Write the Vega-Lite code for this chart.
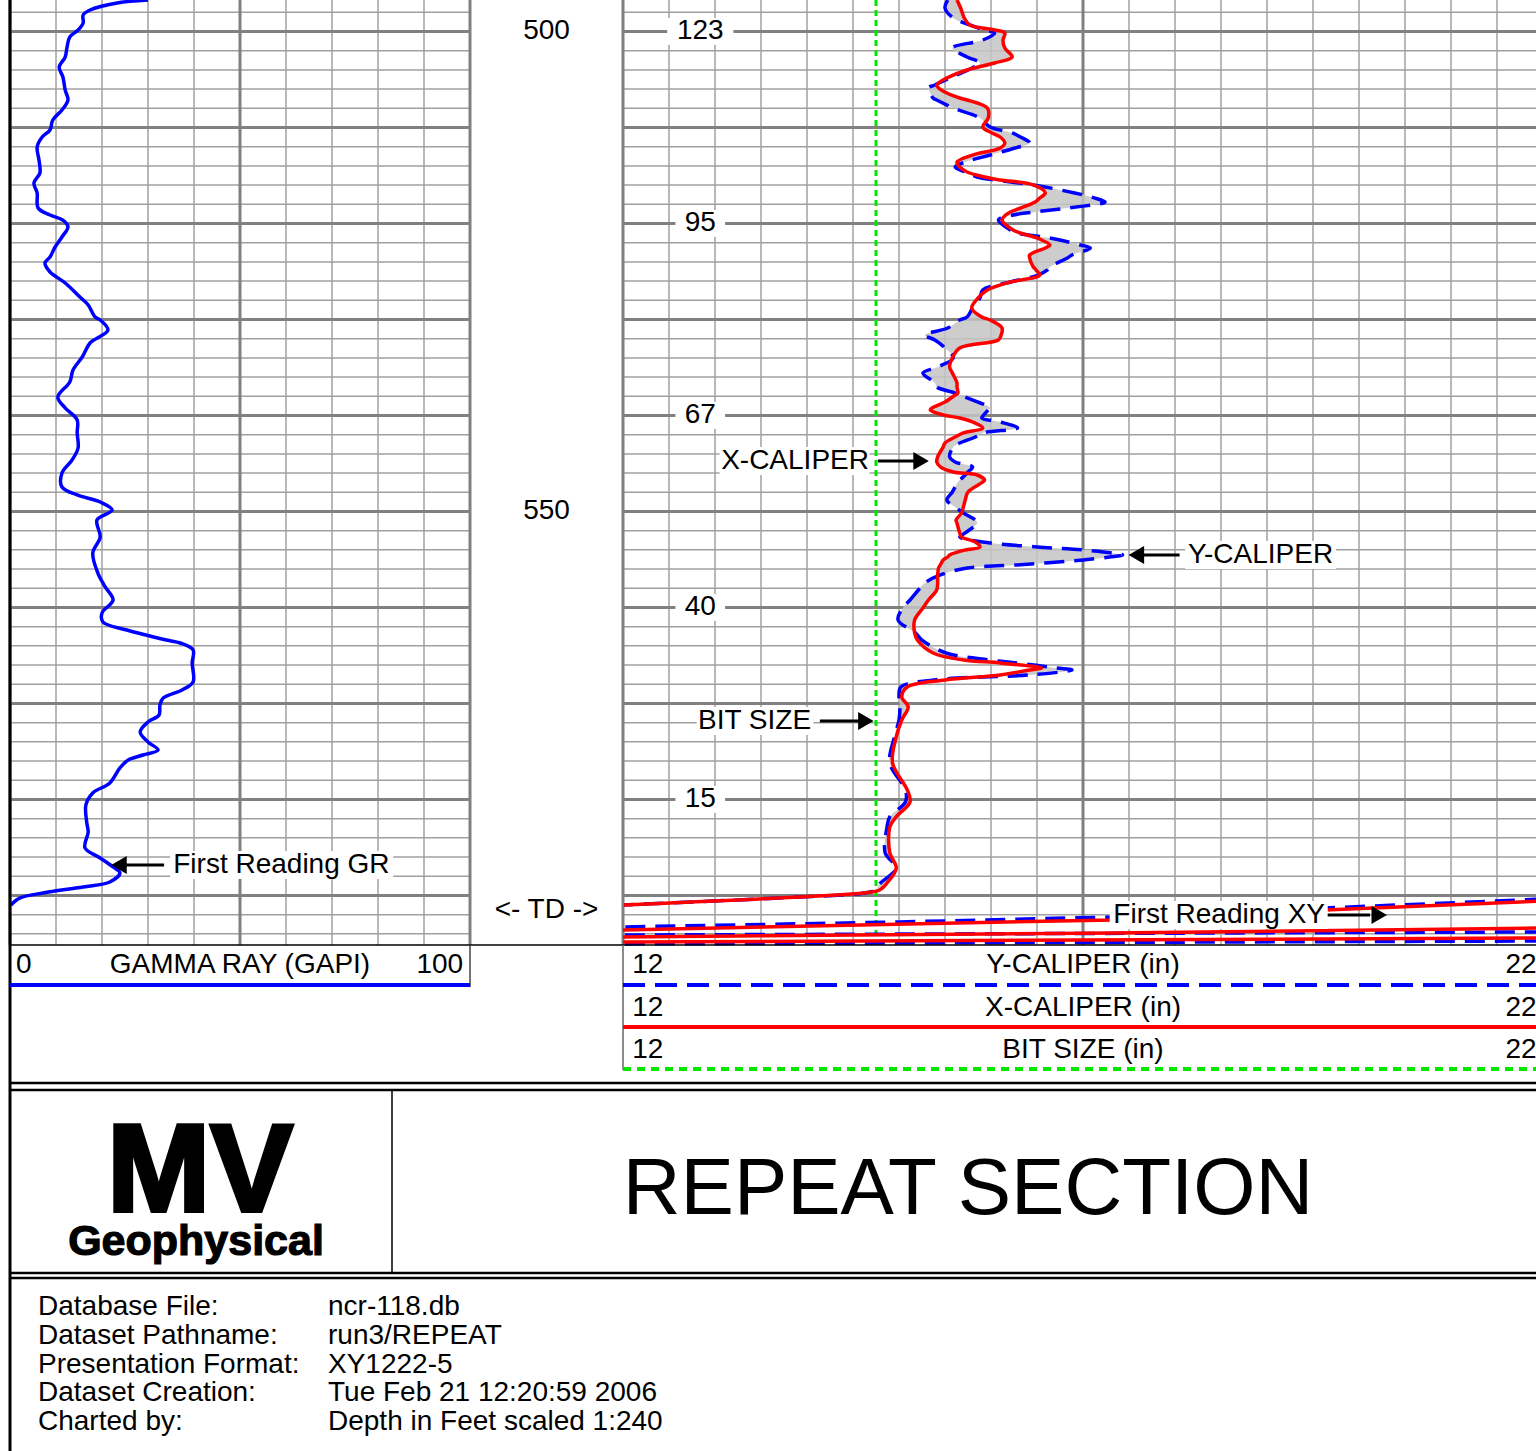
{
"$schema":"https://vega.github.io/schema/vega-lite/v6.json",
"width":1536,"height":1451,"autosize":{"type":"none"},"padding":0,"background":"white",
"config":{"view":{"stroke":null},"axis":{"disable":true},"legend":{"disable":true},"text":{"font":"Liberation Sans","fontSize":28,"color":"black"}},
"data":{"values":[{}]},
"datasets":{
"hgrid":[{"v":498},{"v":500},{"v":502},{"v":504},{"v":506},{"v":508},{"v":510},{"v":512},{"v":514},{"v":516},{"v":518},{"v":520},{"v":522},{"v":524},{"v":526},{"v":528},{"v":530},{"v":532},{"v":534},{"v":536},{"v":538},{"v":540},{"v":542},{"v":544},{"v":546},{"v":548},{"v":550},{"v":552},{"v":554},{"v":556},{"v":558},{"v":560},{"v":562},{"v":564},{"v":566},{"v":568},{"v":570},{"v":572},{"v":574},{"v":576},{"v":578},{"v":580},{"v":582},{"v":584},{"v":586},{"v":588},{"v":590},{"v":592},{"v":594}],
"grgrid":[{"v":0},{"v":10},{"v":20},{"v":30},{"v":40},{"v":50},{"v":60},{"v":70},{"v":80},{"v":90},{"v":100}],
"calgrid":[{"v":12},{"v":12.5},{"v":13},{"v":13.5},{"v":14},{"v":14.5},{"v":15},{"v":15.5},{"v":16},{"v":16.5},{"v":17},{"v":17.5},{"v":18},{"v":18.5},{"v":19},{"v":19.5},{"v":20},{"v":20.5},{"v":21},{"v":21.5},{"v":22}],
"gr":[{"depth":496.72,"gr":30.0},{"depth":497.03,"gr":23.3},{"depth":497.76,"gr":17.4},{"depth":498.28,"gr":15.9},{"depth":499.12,"gr":15.9},{"depth":499.85,"gr":14.8},{"depth":500.57,"gr":13.0},{"depth":501.62,"gr":12.4},{"depth":502.66,"gr":12.0},{"depth":503.70,"gr":10.7},{"depth":504.74,"gr":11.5},{"depth":506.10,"gr":12.0},{"depth":507.14,"gr":12.6},{"depth":508.18,"gr":11.3},{"depth":509.22,"gr":9.3},{"depth":510.26,"gr":8.7},{"depth":510.99,"gr":7.0},{"depth":512.03,"gr":5.9},{"depth":513.39,"gr":6.3},{"depth":514.74,"gr":6.5},{"depth":515.78,"gr":5.2},{"depth":516.82,"gr":5.9},{"depth":518.39,"gr":6.1},{"depth":519.12,"gr":8.7},{"depth":519.64,"gr":11.5},{"depth":520.36,"gr":12.6},{"depth":521.41,"gr":11.3},{"depth":522.45,"gr":9.8},{"depth":523.49,"gr":8.7},{"depth":524.12,"gr":7.6},{"depth":525.05,"gr":8.7},{"depth":526.20,"gr":12.0},{"depth":527.66,"gr":15.2},{"depth":528.49,"gr":17.0},{"depth":529.74,"gr":18.5},{"depth":530.05,"gr":19.6},{"depth":531.10,"gr":21.3},{"depth":532.45,"gr":17.4},{"depth":533.91,"gr":15.7},{"depth":535.26,"gr":13.7},{"depth":536.51,"gr":13.0},{"depth":538.08,"gr":10.4},{"depth":539.22,"gr":12.0},{"depth":540.47,"gr":14.6},{"depth":541.82,"gr":14.6},{"depth":543.39,"gr":14.8},{"depth":544.64,"gr":13.5},{"depth":545.99,"gr":11.3},{"depth":547.45,"gr":11.3},{"depth":548.28,"gr":14.6},{"depth":549.01,"gr":19.6},{"depth":549.85,"gr":22.2},{"depth":550.89,"gr":18.9},{"depth":552.66,"gr":19.6},{"depth":554.32,"gr":18.0},{"depth":556.41,"gr":19.1},{"depth":557.86,"gr":20.7},{"depth":559.22,"gr":22.4},{"depth":560.57,"gr":20.0},{"depth":561.51,"gr":20.2},{"depth":562.35,"gr":25.4},{"depth":563.39,"gr":34.0},{"depth":563.70,"gr":37.0},{"depth":564.43,"gr":39.8},{"depth":565.78,"gr":39.6},{"depth":567.76,"gr":39.8},{"depth":568.59,"gr":37.4},{"depth":569.43,"gr":33.3},{"depth":570.16,"gr":32.6},{"depth":571.20,"gr":32.4},{"depth":571.93,"gr":30.0},{"depth":572.97,"gr":28.3},{"depth":574.01,"gr":30.0},{"depth":574.85,"gr":32.2},{"depth":575.37,"gr":28.9},{"depth":575.89,"gr":25.7},{"depth":576.72,"gr":23.9},{"depth":578.28,"gr":21.7},{"depth":579.32,"gr":18.0},{"depth":580.57,"gr":16.5},{"depth":582.45,"gr":16.7},{"depth":583.39,"gr":17.0},{"depth":585.05,"gr":16.3},{"depth":586.10,"gr":19.6},{"depth":587.03,"gr":22.4},{"depth":587.66,"gr":23.9},{"depth":588.60,"gr":21.7},{"depth":589.11,"gr":15.9},{"depth":589.74,"gr":7.2},{"depth":590.26,"gr":2.2},{"depth":590.99,"gr":0.2}],
"cal":[{"depth":496.72,"xc":15.63,"yc":15.53},{"depth":497.55,"xc":15.67,"yc":15.50},{"depth":498.60,"xc":15.71,"yc":15.59},{"depth":499.32,"xc":15.77,"yc":15.77},{"depth":499.85,"xc":16.04,"yc":15.93},{"depth":500.16,"xc":16.15,"yc":16.04},{"depth":500.89,"xc":16.13,"yc":15.91},{"depth":501.72,"xc":16.15,"yc":15.58},{"depth":502.66,"xc":16.23,"yc":15.74},{"depth":503.28,"xc":16.04,"yc":15.88},{"depth":504.01,"xc":15.74,"yc":15.75},{"depth":504.85,"xc":15.52,"yc":15.55},{"depth":505.57,"xc":15.41,"yc":15.39},{"depth":505.89,"xc":15.43,"yc":15.32},{"depth":506.41,"xc":15.52,"yc":15.34},{"depth":506.93,"xc":15.66,"yc":15.37},{"depth":507.14,"xc":15.74,"yc":15.41},{"depth":507.97,"xc":15.96,"yc":15.59},{"depth":509.01,"xc":15.97,"yc":15.88},{"depth":509.95,"xc":15.91,"yc":15.99},{"depth":510.57,"xc":16.01,"yc":16.23},{"depth":510.99,"xc":16.10,"yc":16.32},{"depth":511.62,"xc":16.15,"yc":16.42},{"depth":512.14,"xc":16.10,"yc":16.26},{"depth":512.87,"xc":15.80,"yc":15.99},{"depth":513.60,"xc":15.63,"yc":15.72},{"depth":514.12,"xc":15.66,"yc":15.61},{"depth":514.64,"xc":15.74,"yc":15.72},{"depth":515.16,"xc":15.93,"yc":15.85},{"depth":515.47,"xc":16.10,"yc":16.04},{"depth":515.99,"xc":16.46,"yc":16.46},{"depth":516.82,"xc":16.59,"yc":16.91},{"depth":517.35,"xc":16.53,"yc":17.13},{"depth":517.76,"xc":16.48,"yc":17.24},{"depth":518.39,"xc":16.32,"yc":16.83},{"depth":518.80,"xc":16.21,"yc":16.48},{"depth":519.12,"xc":16.16,"yc":16.24},{"depth":519.64,"xc":16.12,"yc":16.08},{"depth":520.68,"xc":16.24,"yc":16.21},{"depth":520.99,"xc":16.32,"yc":16.28},{"depth":521.51,"xc":16.50,"yc":16.64},{"depth":521.72,"xc":16.55,"yc":16.75},{"depth":522.24,"xc":16.64,"yc":16.97},{"depth":522.55,"xc":16.59,"yc":17.08},{"depth":523.28,"xc":16.42,"yc":16.88},{"depth":523.59,"xc":16.42,"yc":16.83},{"depth":524.53,"xc":16.46,"yc":16.64},{"depth":524.85,"xc":16.49,"yc":16.61},{"depth":525.37,"xc":16.53,"yc":16.51},{"depth":526.10,"xc":16.21,"yc":16.21},{"depth":526.93,"xc":15.96,"yc":15.91},{"depth":527.76,"xc":15.86,"yc":15.88},{"depth":528.80,"xc":15.79,"yc":15.80},{"depth":529.74,"xc":15.90,"yc":15.74},{"depth":530.05,"xc":15.99,"yc":15.66},{"depth":530.89,"xc":16.12,"yc":15.53},{"depth":531.62,"xc":16.11,"yc":15.28},{"depth":532.14,"xc":16.08,"yc":15.39},{"depth":532.97,"xc":15.66,"yc":15.50},{"depth":534.01,"xc":15.58,"yc":15.59},{"depth":534.95,"xc":15.55,"yc":15.42},{"depth":535.57,"xc":15.58,"yc":15.26},{"depth":536.61,"xc":15.63,"yc":15.39},{"depth":537.03,"xc":15.63,"yc":15.41},{"depth":537.66,"xc":15.64,"yc":15.61},{"depth":537.87,"xc":15.61,"yc":15.66},{"depth":538.60,"xc":15.50,"yc":15.86},{"depth":539.22,"xc":15.36,"yc":15.99},{"depth":539.43,"xc":15.34,"yc":15.97},{"depth":539.95,"xc":15.48,"yc":15.92},{"depth":540.26,"xc":15.66,"yc":15.90},{"depth":540.68,"xc":15.80,"yc":16.10},{"depth":541.30,"xc":15.91,"yc":16.29},{"depth":541.82,"xc":15.70,"yc":15.91},{"depth":542.24,"xc":15.61,"yc":15.83},{"depth":542.87,"xc":15.50,"yc":15.66},{"depth":543.28,"xc":15.48,"yc":15.59},{"depth":544.32,"xc":15.42,"yc":15.55},{"depth":544.84,"xc":15.41,"yc":15.61},{"depth":545.36,"xc":15.45,"yc":15.80},{"depth":545.89,"xc":15.59,"yc":15.75},{"depth":546.20,"xc":15.85,"yc":15.72},{"depth":546.72,"xc":15.93,"yc":15.66},{"depth":546.93,"xc":15.91,"yc":15.64},{"depth":547.97,"xc":15.75,"yc":15.58},{"depth":548.80,"xc":15.72,"yc":15.52},{"depth":549.53,"xc":15.70,"yc":15.61},{"depth":550.16,"xc":15.68,"yc":15.70},{"depth":550.89,"xc":15.62,"yc":15.83},{"depth":551.20,"xc":15.63,"yc":15.85},{"depth":552.24,"xc":15.66,"yc":15.72},{"depth":552.66,"xc":15.68,"yc":15.66},{"depth":553.18,"xc":15.83,"yc":15.91},{"depth":553.70,"xc":15.88,"yc":16.50},{"depth":554.01,"xc":15.72,"yc":17.00},{"depth":554.53,"xc":15.55,"yc":17.43},{"depth":554.74,"xc":15.53,"yc":17.29},{"depth":555.05,"xc":15.48,"yc":17.00},{"depth":555.57,"xc":15.45,"yc":16.28},{"depth":555.89,"xc":15.43,"yc":15.74},{"depth":556.61,"xc":15.42,"yc":15.45},{"depth":557.45,"xc":15.42,"yc":15.28},{"depth":558.18,"xc":15.41,"yc":15.21},{"depth":559.22,"xc":15.32,"yc":15.12},{"depth":560.05,"xc":15.26,"yc":15.04},{"depth":561.30,"xc":15.17,"yc":14.99},{"depth":562.66,"xc":15.17,"yc":15.18},{"depth":563.39,"xc":15.20,"yc":15.25},{"depth":564.74,"xc":15.37,"yc":15.51},{"depth":565.47,"xc":15.70,"yc":15.99},{"depth":565.78,"xc":16.10,"yc":16.29},{"depth":566.30,"xc":16.55,"yc":16.70},{"depth":566.51,"xc":16.42,"yc":16.88},{"depth":567.03,"xc":16.10,"yc":16.42},{"depth":567.55,"xc":15.50,"yc":15.38},{"depth":568.28,"xc":15.09,"yc":15.02},{"depth":569.32,"xc":15.03,"yc":15.00},{"depth":570.36,"xc":15.10,"yc":15.01},{"depth":571.72,"xc":15.03,"yc":15.00},{"depth":573.49,"xc":14.97,"yc":14.95},{"depth":576.20,"xc":14.93,"yc":14.90},{"depth":579.01,"xc":15.09,"yc":15.07},{"depth":580.26,"xc":15.12,"yc":15.07},{"depth":581.80,"xc":14.97,"yc":14.90},{"depth":582.86,"xc":14.90,"yc":14.87},{"depth":585.57,"xc":14.90,"yc":14.85},{"depth":587.14,"xc":14.97,"yc":14.97},{"depth":588.70,"xc":14.87,"yc":14.80},{"depth":589.43,"xc":14.79,"yc":14.74},{"depth":589.74,"xc":14.61,"yc":14.63},{"depth":590.26,"xc":13.70,"yc":13.70},{"depth":590.68,"xc":12.73,"yc":12.75},{"depth":590.99,"xc":12.01,"yc":12.01}],
"xwrap":[{"seg":"A","i":1,"depth":590.57,"xc":22.02},{"seg":"A","i":2,"depth":591.51,"xc":19.63},{"seg":"A","i":3,"depth":592.55,"xc":17.33},{"seg":"A","i":4,"depth":593.07,"xc":14.58},{"seg":"A","i":5,"depth":593.59,"xc":12.0},{"seg":"B","i":1,"depth":593.39,"xc":22.02},{"seg":"B","i":2,"depth":593.91,"xc":17.33},{"seg":"B","i":3,"depth":594.32,"xc":12.0},{"seg":"C","i":1,"depth":594.43,"xc":22.02},{"seg":"C","i":2,"depth":594.85,"xc":12.0}],
"ywrap":[{"seg":"A","i":1,"depth":590.37,"yc":22.02},{"seg":"A","i":2,"depth":591.30,"yc":19.63},{"seg":"A","i":3,"depth":592.24,"yc":17.33},{"seg":"A","i":4,"depth":592.76,"yc":15.01},{"seg":"A","i":5,"depth":593.28,"yc":12.0},{"seg":"B","i":1,"depth":593.80,"yc":22.02},{"seg":"B","i":2,"depth":594.12,"yc":12.0},{"seg":"C","i":1,"depth":594.74,"yc":22.02},{"seg":"C","i":2,"depth":595.05,"yc":12.0}],
"calboxes":[{"c1":12.48,"c2":13.2,"d1":498.6,"d2":501.4},{"c1":12.57,"c2":13.11,"d1":518.6,"d2":521.4},{"c1":12.57,"c2":13.11,"d1":538.6,"d2":541.4},{"c1":12.57,"c2":13.11,"d1":558.6,"d2":561.4},{"c1":12.57,"c2":13.11,"d1":578.6,"d2":581.4},{"c1":13.05,"c2":14.68,"d1":543.28,"d2":546.2},{"c1":12.8,"c2":14.07,"d1":570.37,"d2":573.28},{"c1":18.11,"c2":19.75,"d1":553.07,"d2":555.99},{"c1":17.29,"c2":19.66,"d1":590.57,"d2":593.49}],
"calnotes":[{"cal":12.84,"depth":500,"label":"123"},{"cal":12.84,"depth":520,"label":"95"},{"cal":12.84,"depth":540,"label":"67"},{"cal":12.84,"depth":560,"label":"40"},{"cal":12.84,"depth":580,"label":"15"},{"cal":13.87,"depth":544.74,"label":"X-CALIPER"},{"cal":13.43,"depth":571.83,"label":"BIT SIZE"},{"cal":18.93,"depth":554.53,"label":"Y-CALIPER"},{"cal":18.48,"depth":592.03,"label":"First Reading XY"}],
"calarrows":[{"c1":14.77,"c2":15.17,"depth":544.74},{"c1":14.14,"c2":14.58,"depth":571.83},{"c1":17.64,"c2":18.05,"depth":554.53},{"c1":19.66,"c2":20.12,"depth":592.03}],
"headsR":[{"cal":15.24,"depth":544.74},{"cal":14.64,"depth":571.83},{"cal":20.22,"depth":592.03}],
"headsL":[{"cal":17.58,"depth":554.53}],
"depthlabels":[{"depth":500,"label":"500"},{"depth":550,"label":"550"},{"depth":591.51,"label":"<- TD ->"}],
"info":[{"row":0,"label":"Database File:","value":"ncr-118.db"},{"row":1,"label":"Dataset Pathname:","value":"run3/REPEAT"},{"row":2,"label":"Presentation Format:","value":"XY1222-5"},{"row":3,"label":"Dataset Creation:","value":"Tue Feb 21 12:20:59 2006"},{"row":4,"label":"Charted by:","value":"Depth in Feet scaled 1:240"}]
},
"resolve":{"scale":{"x":"independent","y":"independent"}},
"layer":[
{"data":{"name":"hgrid"},"transform":[{"filter":"datum.v % 10 !== 0"}],"mark":{"type":"rule","stroke":"#a0a0a0","strokeWidth":1.5},"encoding":{"y":{"field":"v","type":"quantitative","scale":{"domain":[496.72,595.16],"range":[0,945],"nice":false,"zero":false}},"x":{"datum":0,"type":"quantitative","scale":{"domain":[0,100],"range":[10,470],"nice":false,"zero":false}},"x2":{"datum":100}}},
{"data":{"name":"hgrid"},"transform":[{"filter":"datum.v % 10 !== 0"}],"mark":{"type":"rule","stroke":"#a0a0a0","strokeWidth":1.5},"encoding":{"y":{"field":"v","type":"quantitative","scale":{"domain":[496.72,595.16],"range":[0,945],"nice":false,"zero":false}},"x":{"datum":12,"type":"quantitative","scale":{"domain":[12,22],"range":[623,1543],"nice":false,"zero":false}},"x2":{"datum":22}}},
{"data":{"name":"grgrid"},"transform":[{"filter":"datum.v % 50 !== 0"}],"mark":{"type":"rule","stroke":"#a0a0a0","strokeWidth":1.5},"encoding":{"x":{"field":"v","type":"quantitative","scale":{"domain":[0,100],"range":[10,470],"nice":false,"zero":false}},"y":{"datum":496.72,"type":"quantitative","scale":{"domain":[496.72,595.16],"range":[0,945],"nice":false,"zero":false}},"y2":{"datum":595.16}}},
{"data":{"name":"calgrid"},"transform":[{"filter":"(datum.v - 12) % 5 !== 0"}],"mark":{"type":"rule","stroke":"#a0a0a0","strokeWidth":1.5},"encoding":{"x":{"field":"v","type":"quantitative","scale":{"domain":[12,22],"range":[623,1543],"nice":false,"zero":false}},"y":{"datum":496.72,"type":"quantitative","scale":{"domain":[496.72,595.16],"range":[0,945],"nice":false,"zero":false}},"y2":{"datum":595.16}}},
{"data":{"name":"hgrid"},"transform":[{"filter":"datum.v % 10 === 0"}],"mark":{"type":"rule","stroke":"#808080","strokeWidth":3},"encoding":{"y":{"field":"v","type":"quantitative","scale":{"domain":[496.72,595.16],"range":[0,945],"nice":false,"zero":false}},"x":{"datum":0,"type":"quantitative","scale":{"domain":[0,100],"range":[10,470],"nice":false,"zero":false}},"x2":{"datum":100}}},
{"data":{"name":"hgrid"},"transform":[{"filter":"datum.v % 10 === 0"}],"mark":{"type":"rule","stroke":"#808080","strokeWidth":3},"encoding":{"y":{"field":"v","type":"quantitative","scale":{"domain":[496.72,595.16],"range":[0,945],"nice":false,"zero":false}},"x":{"datum":12,"type":"quantitative","scale":{"domain":[12,22],"range":[623,1543],"nice":false,"zero":false}},"x2":{"datum":22}}},
{"data":{"name":"grgrid"},"transform":[{"filter":"datum.v % 50 === 0"}],"mark":{"type":"rule","stroke":"#808080","strokeWidth":3},"encoding":{"x":{"field":"v","type":"quantitative","scale":{"domain":[0,100],"range":[10,470],"nice":false,"zero":false}},"y":{"datum":496.72,"type":"quantitative","scale":{"domain":[496.72,595.16],"range":[0,945],"nice":false,"zero":false}},"y2":{"datum":595.16}}},
{"data":{"name":"calgrid"},"transform":[{"filter":"(datum.v - 12) % 5 === 0"}],"mark":{"type":"rule","stroke":"#808080","strokeWidth":3},"encoding":{"x":{"field":"v","type":"quantitative","scale":{"domain":[12,22],"range":[623,1543],"nice":false,"zero":false}},"y":{"datum":496.72,"type":"quantitative","scale":{"domain":[496.72,595.16],"range":[0,945],"nice":false,"zero":false}},"y2":{"datum":595.16}}},
{"mark":{"type":"rule","stroke":"#00e600","strokeWidth":3,"strokeDash":[6,4]},"encoding":{"x":{"datum":14.75,"type":"quantitative","scale":{"domain":[12,22],"range":[623,1543],"nice":false,"zero":false}},"y":{"datum":496.72,"type":"quantitative","scale":{"domain":[496.72,595.16],"range":[0,945],"nice":false,"zero":false}},"y2":{"datum":595.16}}},
{"data":{"name":"cal"},"mark":{"type":"area","orient":"horizontal","interpolate":"catmull-rom","fill":"#c4c4c4","opacity":0.85,"clip":true},"encoding":{"y":{"field":"depth","type":"quantitative","scale":{"domain":[496.72,595.16],"range":[0,945],"nice":false,"zero":false}},"x":{"field":"xc","type":"quantitative","scale":{"domain":[12,22],"range":[623,1543],"nice":false,"zero":false}},"x2":{"field":"yc"}}},
{"data":{"name":"gr"},"mark":{"type":"line","stroke":"#0000ff","strokeWidth":3.5,"interpolate":"catmull-rom","clip":true},"encoding":{"y":{"field":"depth","type":"quantitative","scale":{"domain":[496.72,595.16],"range":[0,945],"nice":false,"zero":false}},"x":{"field":"gr","type":"quantitative","scale":{"domain":[0,100],"range":[10,470],"nice":false,"zero":false}},"order":{"field":"depth","type":"quantitative"}}},
{"data":{"name":"cal"},"mark":{"type":"line","stroke":"#0000ff","strokeWidth":3.5,"strokeDash":[20,10],"interpolate":"catmull-rom","clip":true},"encoding":{"y":{"field":"depth","type":"quantitative","scale":{"domain":[496.72,595.16],"range":[0,945],"nice":false,"zero":false}},"x":{"field":"yc","type":"quantitative","scale":{"domain":[12,22],"range":[623,1543],"nice":false,"zero":false}},"order":{"field":"depth","type":"quantitative"}}},
{"data":{"name":"ywrap"},"mark":{"type":"line","stroke":"#0000ff","strokeWidth":3.5,"strokeDash":[20,10],"clip":true},"encoding":{"y":{"field":"depth","type":"quantitative","scale":{"domain":[496.72,595.16],"range":[0,945],"nice":false,"zero":false}},"x":{"field":"yc","type":"quantitative","scale":{"domain":[12,22],"range":[623,1543],"nice":false,"zero":false}},"detail":{"field":"seg"},"order":{"field":"i","type":"quantitative"}}},
{"data":{"name":"cal"},"mark":{"type":"line","stroke":"#ff0000","strokeWidth":3.5,"interpolate":"catmull-rom","clip":true},"encoding":{"y":{"field":"depth","type":"quantitative","scale":{"domain":[496.72,595.16],"range":[0,945],"nice":false,"zero":false}},"x":{"field":"xc","type":"quantitative","scale":{"domain":[12,22],"range":[623,1543],"nice":false,"zero":false}},"order":{"field":"depth","type":"quantitative"}}},
{"data":{"name":"xwrap"},"mark":{"type":"line","stroke":"#ff0000","strokeWidth":3.5,"clip":true},"encoding":{"y":{"field":"depth","type":"quantitative","scale":{"domain":[496.72,595.16],"range":[0,945],"nice":false,"zero":false}},"x":{"field":"xc","type":"quantitative","scale":{"domain":[12,22],"range":[623,1543],"nice":false,"zero":false}},"detail":{"field":"seg"},"order":{"field":"i","type":"quantitative"}}},
{"data":{"name":"calboxes"},"mark":{"type":"rect","fill":"white"},"encoding":{"x":{"field":"c1","type":"quantitative","scale":{"domain":[12,22],"range":[623,1543],"nice":false,"zero":false}},"x2":{"field":"c2"},"y":{"field":"d1","type":"quantitative","scale":{"domain":[496.72,595.16],"range":[0,945],"nice":false,"zero":false}},"y2":{"field":"d2"}}},
{"data":{"values":[{"g1":34.8,"g2":83.3,"d1":585.36,"d2":588.28}]},"mark":{"type":"rect","fill":"white"},"encoding":{"x":{"field":"g1","type":"quantitative","scale":{"domain":[0,100],"range":[10,470],"nice":false,"zero":false}},"x2":{"field":"g2"},"y":{"field":"d1","type":"quantitative","scale":{"domain":[496.72,595.16],"range":[0,945],"nice":false,"zero":false}},"y2":{"field":"d2"}}},
{"data":{"name":"calnotes"},"mark":{"type":"text","align":"center","baseline":"middle","fontSize":28},"encoding":{"x":{"field":"cal","type":"quantitative","scale":{"domain":[12,22],"range":[623,1543],"nice":false,"zero":false}},"y":{"field":"depth","type":"quantitative","scale":{"domain":[496.72,595.16],"range":[0,945],"nice":false,"zero":false}},"text":{"field":"label"}}},
{"data":{"values":[{"g":59.0,"depth":586.82,"label":"First Reading GR"}]},"mark":{"type":"text","align":"center","baseline":"middle","fontSize":28},"encoding":{"x":{"field":"g","type":"quantitative","scale":{"domain":[0,100],"range":[10,470],"nice":false,"zero":false}},"y":{"field":"depth","type":"quantitative","scale":{"domain":[496.72,595.16],"range":[0,945],"nice":false,"zero":false}},"text":{"field":"label"}}},
{"data":{"name":"calarrows"},"mark":{"type":"rule","stroke":"black","strokeWidth":3},"encoding":{"x":{"field":"c1","type":"quantitative","scale":{"domain":[12,22],"range":[623,1543],"nice":false,"zero":false}},"x2":{"field":"c2"},"y":{"field":"depth","type":"quantitative","scale":{"domain":[496.72,595.16],"range":[0,945],"nice":false,"zero":false}}}},
{"data":{"values":[{"g1":25.0,"g2":33.5,"depth":586.82}]},"mark":{"type":"rule","stroke":"black","strokeWidth":3},"encoding":{"x":{"field":"g1","type":"quantitative","scale":{"domain":[0,100],"range":[10,470],"nice":false,"zero":false}},"x2":{"field":"g2"},"y":{"field":"depth","type":"quantitative","scale":{"domain":[496.72,595.16],"range":[0,945],"nice":false,"zero":false}}}},
{"data":{"name":"headsR"},"mark":{"type":"point","shape":"triangle-right","filled":true,"color":"black","opacity":1,"size":320},"encoding":{"x":{"field":"cal","type":"quantitative","scale":{"domain":[12,22],"range":[623,1543],"nice":false,"zero":false}},"y":{"field":"depth","type":"quantitative","scale":{"domain":[496.72,595.16],"range":[0,945],"nice":false,"zero":false}}}},
{"data":{"name":"headsL"},"mark":{"type":"point","shape":"triangle-left","filled":true,"color":"black","opacity":1,"size":320},"encoding":{"x":{"field":"cal","type":"quantitative","scale":{"domain":[12,22],"range":[623,1543],"nice":false,"zero":false}},"y":{"field":"depth","type":"quantitative","scale":{"domain":[496.72,595.16],"range":[0,945],"nice":false,"zero":false}}}},
{"data":{"values":[{"g":23.7,"depth":586.82}]},"mark":{"type":"point","shape":"triangle-left","filled":true,"color":"black","opacity":1,"size":320},"encoding":{"x":{"field":"g","type":"quantitative","scale":{"domain":[0,100],"range":[10,470],"nice":false,"zero":false}},"y":{"field":"depth","type":"quantitative","scale":{"domain":[496.72,595.16],"range":[0,945],"nice":false,"zero":false}}}},
{"data":{"name":"depthlabels"},"mark":{"type":"text","align":"center","baseline":"middle","fontSize":28},"encoding":{"x":{"datum":0.5,"type":"quantitative","scale":{"domain":[0,1],"range":[470,623],"nice":false,"zero":false}},"y":{"field":"depth","type":"quantitative","scale":{"domain":[496.72,595.16],"range":[0,945],"nice":false,"zero":false}},"text":{"field":"label"}}},
{"mark":{"type":"rule","stroke":"black","strokeWidth":3},"encoding":{"x":{"datum":10,"type":"quantitative","scale":{"domain":[0,1536],"range":[0,1536],"nice":false,"zero":false}},"y":{"datum":0,"type":"quantitative","scale":{"domain":[0,1451],"range":[0,1451],"nice":false,"zero":false}},"y2":{"datum":1451}}},
{"mark":{"type":"rule","stroke":"black","strokeWidth":1.5},"encoding":{"x":{"datum":10,"type":"quantitative","scale":{"domain":[0,1536],"range":[0,1536],"nice":false,"zero":false}},"x2":{"datum":1536},"y":{"datum":945,"type":"quantitative","scale":{"domain":[0,1451],"range":[0,1451],"nice":false,"zero":false}}}},
{"mark":{"type":"rule","stroke":"#444444","strokeWidth":1.5},"encoding":{"x":{"datum":470,"type":"quantitative","scale":{"domain":[0,1536],"range":[0,1536],"nice":false,"zero":false}},"y":{"datum":945,"type":"quantitative","scale":{"domain":[0,1451],"range":[0,1451],"nice":false,"zero":false}},"y2":{"datum":987}}},
{"mark":{"type":"rule","stroke":"#666666","strokeWidth":1.5},"encoding":{"x":{"datum":623,"type":"quantitative","scale":{"domain":[0,1536],"range":[0,1536],"nice":false,"zero":false}},"y":{"datum":945,"type":"quantitative","scale":{"domain":[0,1451],"range":[0,1451],"nice":false,"zero":false}},"y2":{"datum":1070}}},
{"mark":{"type":"rule","stroke":"black","strokeWidth":2.5},"encoding":{"x":{"datum":10,"type":"quantitative","scale":{"domain":[0,1536],"range":[0,1536],"nice":false,"zero":false}},"x2":{"datum":1536},"y":{"datum":1083,"type":"quantitative","scale":{"domain":[0,1451],"range":[0,1451],"nice":false,"zero":false}}}},
{"mark":{"type":"rule","stroke":"black","strokeWidth":2.5},"encoding":{"x":{"datum":10,"type":"quantitative","scale":{"domain":[0,1536],"range":[0,1536],"nice":false,"zero":false}},"x2":{"datum":1536},"y":{"datum":1090,"type":"quantitative","scale":{"domain":[0,1451],"range":[0,1451],"nice":false,"zero":false}}}},
{"mark":{"type":"rule","stroke":"black","strokeWidth":2.5},"encoding":{"x":{"datum":10,"type":"quantitative","scale":{"domain":[0,1536],"range":[0,1536],"nice":false,"zero":false}},"x2":{"datum":1536},"y":{"datum":1273,"type":"quantitative","scale":{"domain":[0,1451],"range":[0,1451],"nice":false,"zero":false}}}},
{"mark":{"type":"rule","stroke":"black","strokeWidth":2.5},"encoding":{"x":{"datum":10,"type":"quantitative","scale":{"domain":[0,1536],"range":[0,1536],"nice":false,"zero":false}},"x2":{"datum":1536},"y":{"datum":1278,"type":"quantitative","scale":{"domain":[0,1451],"range":[0,1451],"nice":false,"zero":false}}}},
{"mark":{"type":"rule","stroke":"black","strokeWidth":1.5},"encoding":{"x":{"datum":392,"type":"quantitative","scale":{"domain":[0,1536],"range":[0,1536],"nice":false,"zero":false}},"y":{"datum":1090,"type":"quantitative","scale":{"domain":[0,1451],"range":[0,1451],"nice":false,"zero":false}},"y2":{"datum":1273}}},
{"mark":{"type":"rule","stroke":"#0000ff","strokeWidth":4},"encoding":{"x":{"datum":0,"type":"quantitative","scale":{"domain":[0,100],"range":[10,470],"nice":false,"zero":false}},"x2":{"datum":100},"y":{"datum":985,"type":"quantitative","scale":{"domain":[0,1451],"range":[0,1451],"nice":false,"zero":false}}}},
{"mark":{"type":"text","text":"0","align":"left","baseline":"middle","fontSize":28},"encoding":{"x":{"datum":1.3,"type":"quantitative","scale":{"domain":[0,100],"range":[10,470],"nice":false,"zero":false}},"y":{"datum":965,"type":"quantitative","scale":{"domain":[0,1451],"range":[0,1451],"nice":false,"zero":false}}}},
{"mark":{"type":"text","text":"GAMMA RAY (GAPI)","align":"center","baseline":"middle","fontSize":28},"encoding":{"x":{"datum":50,"type":"quantitative","scale":{"domain":[0,100],"range":[10,470],"nice":false,"zero":false}},"y":{"datum":965,"type":"quantitative","scale":{"domain":[0,1451],"range":[0,1451],"nice":false,"zero":false}}}},
{"mark":{"type":"text","text":"100","align":"right","baseline":"middle","fontSize":28},"encoding":{"x":{"datum":98.5,"type":"quantitative","scale":{"domain":[0,100],"range":[10,470],"nice":false,"zero":false}},"y":{"datum":965,"type":"quantitative","scale":{"domain":[0,1451],"range":[0,1451],"nice":false,"zero":false}}}},
{"data":{"values":[{"row":965,"name":"Y-CALIPER (in)"},{"row":1008,"name":"X-CALIPER (in)"},{"row":1050,"name":"BIT SIZE (in)"}]},"layer":[
{"mark":{"type":"text","align":"center","baseline":"middle","fontSize":28},"encoding":{"x":{"datum":17,"type":"quantitative","scale":{"domain":[12,22],"range":[623,1543],"nice":false,"zero":false}},"y":{"field":"row","type":"quantitative","scale":{"domain":[0,1451],"range":[0,1451],"nice":false,"zero":false}},"text":{"field":"name"}}},
{"mark":{"type":"text","text":"12","align":"left","baseline":"middle","fontSize":28},"encoding":{"x":{"datum":12.1,"type":"quantitative","scale":{"domain":[12,22],"range":[623,1543],"nice":false,"zero":false}},"y":{"field":"row","type":"quantitative","scale":{"domain":[0,1451],"range":[0,1451],"nice":false,"zero":false}}}},
{"mark":{"type":"text","text":"22","align":"right","baseline":"middle","fontSize":28},"encoding":{"x":{"datum":21.93,"type":"quantitative","scale":{"domain":[12,22],"range":[623,1543],"nice":false,"zero":false}},"y":{"field":"row","type":"quantitative","scale":{"domain":[0,1451],"range":[0,1451],"nice":false,"zero":false}}}}
],"resolve":{"scale":{"x":"independent","y":"independent"}}},
{"mark":{"type":"rule","stroke":"#0000ff","strokeWidth":4,"strokeDash":[22,10]},"encoding":{"x":{"datum":12,"type":"quantitative","scale":{"domain":[12,22],"range":[623,1543],"nice":false,"zero":false}},"x2":{"datum":22},"y":{"datum":985,"type":"quantitative","scale":{"domain":[0,1451],"range":[0,1451],"nice":false,"zero":false}}}},
{"mark":{"type":"rule","stroke":"#ff0000","strokeWidth":4},"encoding":{"x":{"datum":12,"type":"quantitative","scale":{"domain":[12,22],"range":[623,1543],"nice":false,"zero":false}},"x2":{"datum":22},"y":{"datum":1027,"type":"quantitative","scale":{"domain":[0,1451],"range":[0,1451],"nice":false,"zero":false}}}},
{"mark":{"type":"rule","stroke":"#00e600","strokeWidth":4,"strokeDash":[8,6]},"encoding":{"x":{"datum":12,"type":"quantitative","scale":{"domain":[12,22],"range":[623,1543],"nice":false,"zero":false}},"x2":{"datum":22},"y":{"datum":1069,"type":"quantitative","scale":{"domain":[0,1451],"range":[0,1451],"nice":false,"zero":false}}}},
{"mark":{"type":"text","text":"MV","align":"center","baseline":"alphabetic","fontSize":124,"fontWeight":"bold","font":"Liberation Sans","stroke":"black","strokeWidth":4,"strokeJoin":"miter"},"encoding":{"x":{"datum":200,"type":"quantitative","scale":{"domain":[0,1536],"range":[0,1536],"nice":false,"zero":false}},"y":{"datum":1211,"type":"quantitative","scale":{"domain":[0,1451],"range":[0,1451],"nice":false,"zero":false}}}},
{"mark":{"type":"text","text":"Geophysical","align":"center","baseline":"alphabetic","fontSize":43,"fontWeight":"bold","font":"Liberation Sans","stroke":"black","strokeWidth":1.2},"encoding":{"x":{"datum":196,"type":"quantitative","scale":{"domain":[0,1536],"range":[0,1536],"nice":false,"zero":false}},"y":{"datum":1255,"type":"quantitative","scale":{"domain":[0,1451],"range":[0,1451],"nice":false,"zero":false}}}},
{"mark":{"type":"text","text":"REPEAT SECTION","align":"center","baseline":"alphabetic","fontSize":80,"font":"Liberation Sans"},"encoding":{"x":{"datum":968,"type":"quantitative","scale":{"domain":[0,1536],"range":[0,1536],"nice":false,"zero":false}},"y":{"datum":1214,"type":"quantitative","scale":{"domain":[0,1451],"range":[0,1451],"nice":false,"zero":false}}}},
{"data":{"name":"info"},"mark":{"type":"text","align":"left","baseline":"middle","fontSize":28},"encoding":{"x":{"datum":38,"type":"quantitative","scale":{"domain":[0,1536],"range":[0,1536],"nice":false,"zero":false}},"y":{"field":"row","type":"quantitative","scale":{"domain":[0,4],"range":[1307,1422],"nice":false,"zero":false}},"text":{"field":"label"}}},
{"data":{"name":"info"},"mark":{"type":"text","align":"left","baseline":"middle","fontSize":28},"encoding":{"x":{"datum":328,"type":"quantitative","scale":{"domain":[0,1536],"range":[0,1536],"nice":false,"zero":false}},"y":{"field":"row","type":"quantitative","scale":{"domain":[0,4],"range":[1307,1422],"nice":false,"zero":false}},"text":{"field":"value"}}}
]
}
